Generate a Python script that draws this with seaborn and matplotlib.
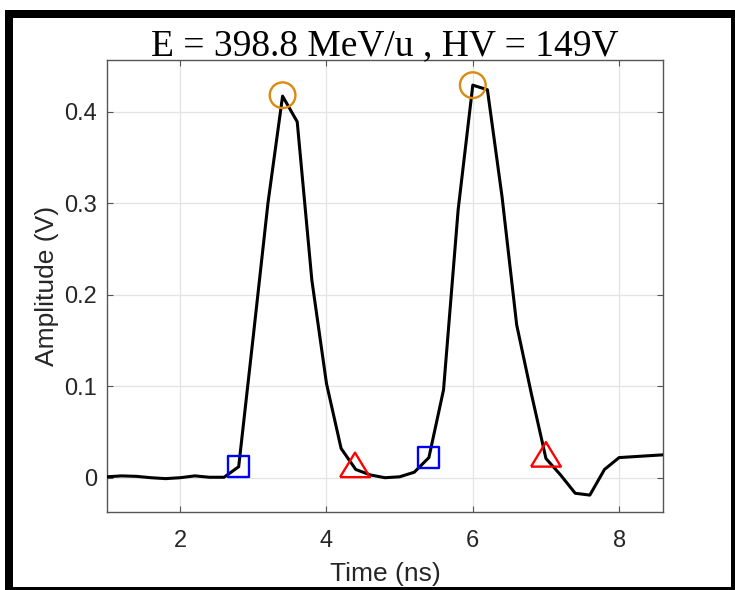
import numpy as np
import pandas as pd
import matplotlib
matplotlib.use("Agg")
import matplotlib.pyplot as plt
from matplotlib.patches import Rectangle
import seaborn as sns

# ---- data ----
time_ns = [1.0, 1.2, 1.4, 1.6, 1.8, 2.0, 2.2, 2.4, 2.6, 2.8,
           3.0, 3.2, 3.4, 3.6, 3.8, 4.0, 4.2, 4.4, 4.6, 4.8,
           5.0, 5.2, 5.4, 5.6, 5.8, 6.0, 6.2, 6.4, 6.6, 6.8,
           7.0, 7.2, 7.4, 7.6, 7.8, 8.0, 8.2, 8.4, 8.6]
amplitude_v = [0.001, 0.002, 0.0015, 0.0, -0.001, 0.0, 0.002, 0.0005, 0.0005, 0.012,
               0.155, 0.300, 0.417, 0.389, 0.216, 0.103, 0.032, 0.009, 0.003, 0.0,
               0.001, 0.006, 0.022, 0.096, 0.293, 0.429, 0.424, 0.307, 0.167, 0.092,
               0.021, 0.003, -0.017, -0.019, 0.009, 0.022, 0.023, 0.024, 0.025]

peak_t = [3.4, 6.0]
peak_a = [0.418, 0.429]
start_t = [2.8, 5.4]
start_a = [0.0125, 0.0225]
end_t = [4.39, 7.0]
end_a = [0.014, 0.0255]

title_text = "E = 398.8 MeV/u , HV = 149V"
x_label = "Time (ns)"
y_label = "Amplitude (V)"
x_ticks = [2, 4, 6, 8]
y_ticks = [0, 0.1, 0.2, 0.3, 0.4]
y_tick_labels = ["0", "0.1", "0.2", "0.3", "0.4"]

# ---- style ----
sns.set_theme(style="white")
plt.rcParams["font.family"] = ["Liberation Sans", "DejaVu Sans"]

W, H = 735, 590
fig = plt.figure(figsize=(W / 100, H / 100), dpi=100)
ax = fig.add_axes([107 / W, 1 - 512.3 / H, (663 - 107) / W, (512.3 - 60) / H])

df = pd.DataFrame({"t": time_ns, "a": amplitude_v})
sns.lineplot(data=df, x="t", y="a", ax=ax, color="black", lw=2.2,
             estimator=None, sort=False, zorder=3)

sns.scatterplot(x=peak_t, y=peak_a, ax=ax, marker="o", s=18.5 ** 2,
                facecolors="none", edgecolor="#DC8A0E", linewidth=1.7, zorder=4)
sns.scatterplot(x=start_t, y=start_a, ax=ax, marker="s", s=15 ** 2,
                facecolors="none", edgecolor="#0000FF", linewidth=1.7, zorder=4)
tri = [(-1, -0.82), (1, -0.82), (0, 0.82), (-1, -0.82)]
sns.scatterplot(x=end_t, y=end_a, ax=ax, marker=tri, s=21.5 ** 2,
                facecolors="none", edgecolor="#FF0000", linewidth=1.7, zorder=4)

ax.set_xlim(1.0, 8.6)
ax.set_ylim(-0.0378, 0.4565)
ax.set_xticks(x_ticks)
ax.set_xticklabels([str(v) for v in x_ticks])
ax.set_yticks(y_ticks)
ax.set_yticklabels(y_tick_labels)

ax.grid(True, color="#e3e3e3", lw=0.9)
ax.set_axisbelow(True)
for s in ax.spines.values():
    s.set_color("#555555")
    s.set_linewidth(1.0)
    s.set_visible(True)

ax.tick_params(axis="both", direction="in", length=4, width=0.8, color="#555555",
               labelcolor="#262626", labelsize=17, top=True, right=True,
               bottom=True, left=True)
ax.tick_params(axis="x", pad=13)
ax.tick_params(axis="y", pad=7)

ax.set_xlabel(x_label, fontsize=19, color="#262626", labelpad=7)
ax.set_ylabel(y_label, fontsize=19, color="#262626", labelpad=4)
ax.set_title(title_text, fontsize=27, family=["Liberation Serif", "DejaVu Serif"],
             color="black", pad=3.5)

# thick figure frame
lw_px = 8
fig.patches.append(Rectangle((9 / W, 1 - 591 / H), (735 - 9) / W, (591 - 13.5) / H,
                             transform=fig.transFigure, fill=False,
                             edgecolor="black", linewidth=lw_px * 0.72,
                             joinstyle="miter", zorder=10))

fig.savefig("out.png", dpi=100)
